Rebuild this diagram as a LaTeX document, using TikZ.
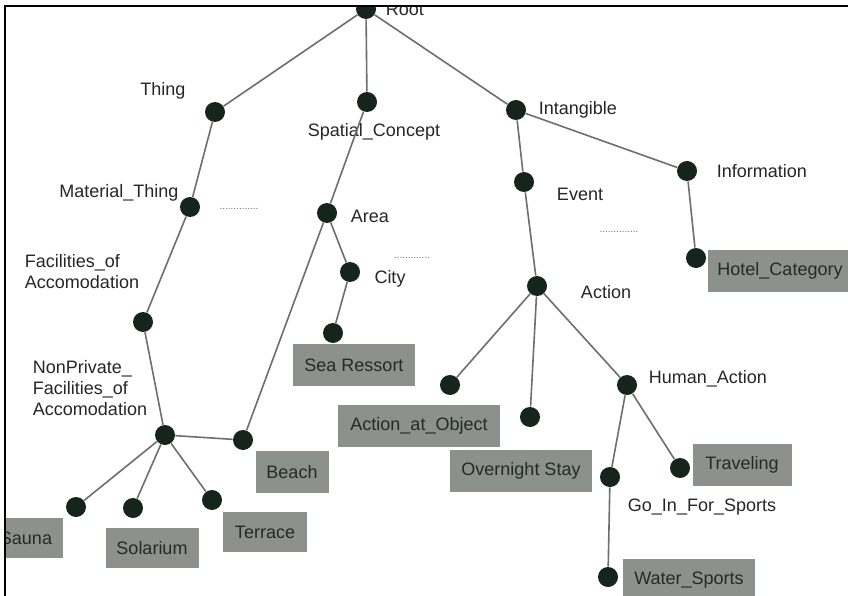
\documentclass[tikz,border=0pt]{standalone}
\usepackage{fontspec}
\setmainfont{Liberation Sans}
\usetikzlibrary{positioning}
\definecolor{dotcol}{HTML}{16241E}
\definecolor{linecol}{HTML}{6E6E6E}
\definecolor{labcol}{HTML}{262626}
\definecolor{boxcol}{HTML}{8C918D}
\definecolor{boxtxt}{HTML}{222B26}

\begin{document}
\begin{tikzpicture}[x=1pt,y=-1pt,thick,
    dot node/.style={circle,fill=dotcol,minimum size=20pt,inner sep=0pt},
    text node/.style={font=\fontsize{18}{21}\selectfont,text=labcol,inner sep=0pt,align=left},
    gap node/.style={font=\fontsize{10}{12}\selectfont,text=linecol,inner sep=0pt},
    leaf node/.style={fill=boxcol,text=boxtxt,font=\fontsize{18}{21}\selectfont,inner sep=0pt,minimum height=42pt},
    every edge/.style={draw=linecol,line width=1.6pt}]

\useasboundingbox (0,0) rectangle (848,596);
\fill[white] (0,0) rectangle (848,596);

\begin{scope}
\clip (5,6) rectangle (848,596);

% concept dots
\node[dot node] (root)     at (366,9)   {};
\node[dot node] (thing)    at (215,112) {};
\node[dot node] (spatial)  at (367,102) {};
\node[dot node] (intang)   at (516,110) {};
\node[dot node] (info)     at (687,171) {};
\node[dot node] (event)    at (524,182) {};
\node[dot node] (hotel)    at (696,258) {};
\node[dot node] (action)   at (537,286) {};
\node[dot node] (material) at (190,207) {};
\node[dot node] (area)     at (327,213) {};
\node[dot node] (city)     at (350,272) {};
\node[dot node] (facil)    at (143,322) {};
\node[dot node] (sea)      at (333,333) {};
\node[dot node] (nonpriv)  at (165,435) {};
\node[dot node] (beach)    at (243,440) {};
\node[dot node] (sauna)    at (76,507)  {};
\node[dot node] (solar)    at (133,508) {};
\node[dot node] (terrace)  at (212,500) {};
\node[dot node] (atobj)    at (450,385) {};
\node[dot node] (night)    at (530,417) {};
\node[dot node] (human)    at (627,385) {};
\node[dot node] (sports)   at (610,477) {};
\node[dot node] (travel)   at (680,468) {};
\node[dot node] (water)    at (608,577) {};

% labels
\node[text node, right=9pt of root]  (rootl)  {Root};
\node[text node] (thingl)    at (163,91)  {Thing};
\node[text node] (spatiall)  at (374,132) {Spatial\_Concept};
\node[text node, right=12pt of intang] (intangl) {Intangible};
\node[text node, right=19pt of info]   (infol)   {Information};
\node[text node] (eventl)    at (580,194) {Event};
\node[text node] (materiall) at (119,193) {Material\_Thing};
\node[text node, right=13pt of area, yshift=-3pt] (areal) {Area};
\node[text node] (cityl)     at (390,279) {City};
\node[text node] (facill)    at (82,272)  {Facilities\_of\\Accomodation};
\node[text node] (nonprivl)  at (90,388)  {NonPrivate\_\\Facilities\_of\\Accomodation};
\node[text node] (actionl)   at (606,292) {Action};
\node[text node, right=11pt of human, yshift=6pt] (humanl) {Human\_Action};
\node[text node] (sportsl)   at (702,507) {Go\_In\_For\_Sports};

% dotted gaps
\node[gap node] (gap1) at (239,209) {..............};
\node[gap node] (gap2) at (412,258) {.............};
\node[gap node] (gap3) at (619,232) {..............};

% instance boxes
\node[leaf node, minimum width=145pt] (hotelb)   at (780,271) {Hotel\_Category};
\node[leaf node, minimum width=122pt] (seab)     at (354,365) {Sea Ressort};
\node[leaf node, minimum width=162pt] (atobjb)   at (419,426) {Action\_at\_Object};
\node[leaf node, minimum width=142pt] (nightb)   at (521,471) {Overnight Stay};
\node[leaf node, minimum width=73pt]  (beachb)   at (292,472) {Beach};
\node[leaf node, minimum width=99pt]  (travelb)  at (742,465) {Traveling};
\node[leaf node, minimum width=132pt] (waterb)   at (689,580) {Water\_Sports};
\node[leaf node, minimum width=74pt, minimum height=40pt] (saunab) at (26,538) {Sauna};
\node[leaf node, minimum width=93pt, minimum height=40pt] (solarb) at (152,548) {Solarium};
\node[leaf node, minimum width=84pt, minimum height=40pt] (terraceb) at (265,532) {Terrace};

\path
(root)     edge (thing)
(root)     edge (spatial)
(root)     edge (intang)
(thing)    edge (material)
(material) edge (facil)
(facil)    edge (nonpriv)
(nonpriv)  edge (beach)
(nonpriv)  edge (sauna)
(nonpriv)  edge (solar)
(nonpriv)  edge (terrace)
(spatial)  edge (area)
(area)     edge (city)
(area)     edge (beach)
(city)     edge (sea)
(intang)   edge (event)
(intang)   edge (info)
(info)     edge (hotel)
(event)    edge (action)
(action)   edge (atobj)
(action)   edge (night)
(action)   edge (human)
(human)    edge (sports)
(human)    edge (travel)
(sports)   edge (water);
\end{scope}

% frame
\draw[line width=1.6pt] (5,596) -- (5,6) -- (848,6);
\end{tikzpicture}
\end{document}
